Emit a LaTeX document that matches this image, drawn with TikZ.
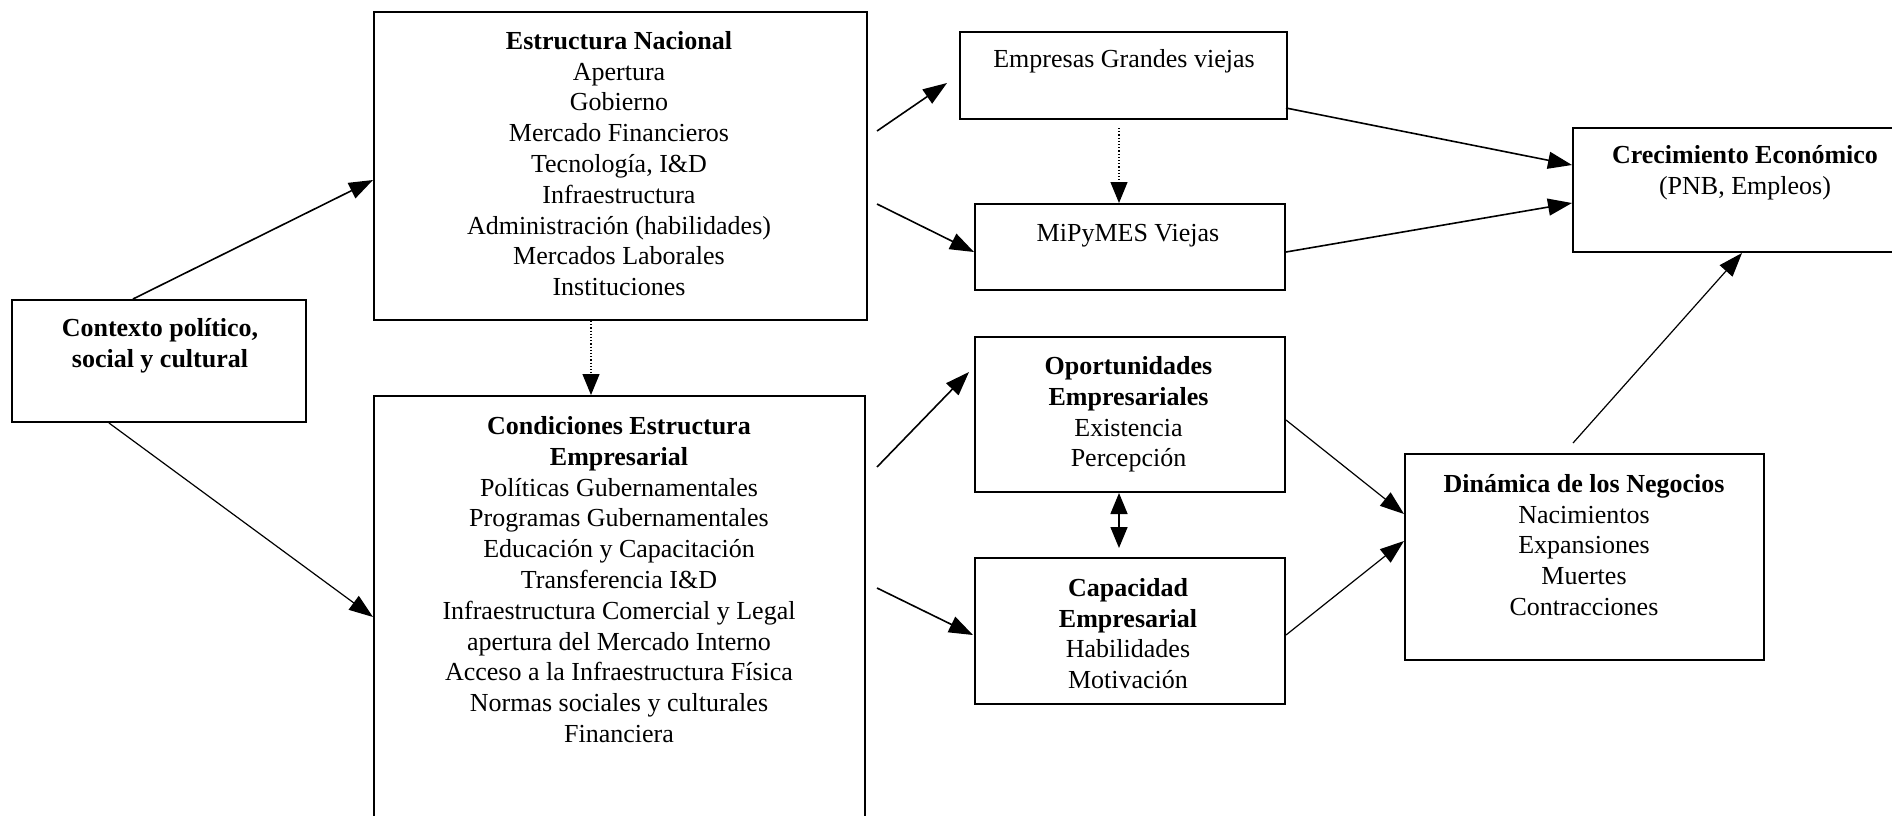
\documentclass[tikz,border=0pt]{standalone}
\usepackage{fontspec}
\setmainfont{Liberation Serif}
\usetikzlibrary{arrows.meta}
\begin{document}
\begin{tikzpicture}[x=1pt,y=-1pt,
  box/.style={draw,line width=2pt,rectangle,inner sep=0pt},
  txt/.style={align=center,font=\fontsize{26}{30.8}\selectfont,inner sep=0pt},
  arr/.style={line width=1.6pt,-{Triangle[length=24pt,width=17pt]}},
  darr/.style={line width=1.6pt,{Triangle[length=21pt,width=17pt]}-{Triangle[length=21pt,width=17pt]}},
  dotarr/.style={line width=1.2pt,dotted,-{Triangle[length=21pt,width=17pt]}}
]
\useasboundingbox (0,0) rectangle (1892,815);
\clip (0,0) rectangle (1892,815);
% boxes
\node[box,minimum width=294pt,minimum height=122pt] (ctx) at (159,361) {};
\node[box,minimum width=493pt,minimum height=308pt] (en) at (620.5,166) {};
\node[box,minimum width=491pt,minimum height=440pt] (ce) at (619.5,616) {};
\node[box,minimum width=327pt,minimum height=87pt] (eg) at (1123.5,75.5) {};
\node[box,minimum width=310pt,minimum height=86pt] (mp) at (1130,247) {};
\node[box,minimum width=310pt,minimum height=155pt] (op) at (1130,414.5) {};
\node[box,minimum width=310pt,minimum height=146pt] (cp) at (1130,631) {};
\node[box,minimum width=359pt,minimum height=206pt] (dn) at (1584.5,557) {};
\node[box,minimum width=346pt,minimum height=124pt] (cr) at (1746,190) {};
% texts
\node[txt,font=\fontsize{26}{30.8}\selectfont\bfseries] (tctx) at (160,346) {Contexto político,\\social y cultural};
\node[txt] (ten) at (619,163.5) {{\bfseries Estructura Nacional}\\Apertura\\Gobierno\\Mercado Financieros\\Tecnología, I\&D\\Infraestructura\\Administración (habilidades)\\Mercados Laborales\\Instituciones};
\node[txt] (tce) at (619,579.5) {{\bfseries Condiciones Estructura}\\{\bfseries Empresarial}\\Políticas Gubernamentales\\Programas Gubernamentales\\Educación y Capacitación\\Transferencia I\&D\\Infraestructura Comercial y Legal\\apertura del Mercado Interno\\Acceso a la Infraestructura Física\\Normas sociales y culturales\\Financiera};
\node[txt] (teg) at (1124,61) {Empresas Grandes viejas};
\node[txt] (tmp) at (1128,236) {MiPyMES Viejas};
\node[txt] (top) at (1128.5,414.5) {{\bfseries Oportunidades}\\{\bfseries Empresariales}\\Existencia\\Percepción};
\node[txt] (tcp) at (1128,633.5) {{\bfseries Capacidad}\\{\bfseries Empresarial}\\Habilidades\\Motivación};
\node[txt] (tdn) at (1584,545) {{\bfseries Dinámica de los Negocios}\\Nacimientos\\Expansiones\\Muertes\\Contracciones};
\node[txt] (tcr) at (1745,173) {{\bfseries Crecimiento Económico}\\(PNB, Empleos)};
% connectors
\draw[arr] ([xshift=-26pt]ctx.north) -- ([yshift=-14pt]en.west);
\draw[arr,line width=1.2pt] ([xshift=-50pt]ctx.south) -- ([yshift=-1pt]ce.west);
\draw[dotarr] ([xshift=-29.5pt]en.south) -- ([xshift=-28.5pt]ce.north);
\draw[arr] ([shift={(9pt,35pt)}]en.east) -- ([shift={(-12pt,-7.5pt)}]eg.west);
\draw[arr] ([shift={(9pt,-38pt)}]en.east) -- ([yshift=-5pt]mp.west);
\draw[arr] ([shift={(11pt,149pt)}]ce.east) -- ([shift={(-5pt,42.5pt)}]op.west);
\draw[arr] ([shift={(11pt,28pt)}]ce.east) -- ([shift={(-1pt,-4pt)}]cp.west);
\draw[arr] ([shift={(-2pt,-32.5pt)}]eg.east) -- ([yshift=25pt]cr.west);
\draw[arr] ([yshift=-5pt]mp.east) -- ([yshift=-13pt]cr.west);
\draw[dotarr] ([shift={(-4.5pt,-8pt)}]eg.south) -- ([xshift=-11pt]mp.north);
\draw[darr] ([xshift=-11pt]op.south) -- ([shift={(-11pt,9pt)}]cp.north);
\draw[arr,line width=1.2pt] ([yshift=-5.5pt]op.east) -- ([yshift=43pt]dn.west);
\draw[arr,line width=1.2pt] ([yshift=-4pt]cp.east) -- ([yshift=16pt]dn.west);
\draw[arr,line width=1.2pt] ([shift={(-11.5pt,10pt)}]dn.north) -- ([xshift=-4pt]cr.south);
\end{tikzpicture}
\end{document}
